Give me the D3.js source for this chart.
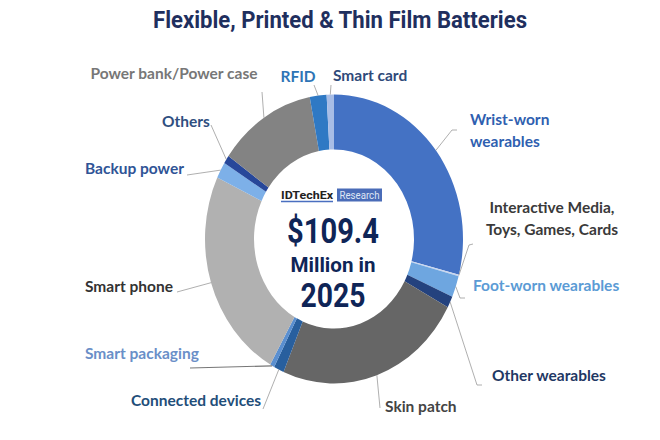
<!DOCTYPE html>
<html><head><meta charset="utf-8">
<script src="https://cdn.jsdelivr.net/npm/d3@7"></script>
<style>body{margin:0;background:#fff}svg{display:block}</style>
</head><body>
<svg id="c" width="660" height="440"></svg>
<script>
// Segments, clockwise from 12 o'clock (US$ million, 2025)
const categories = ["Wrist-worn wearables","Interactive Media, Toys, Games, Cards","Foot-worn wearables","Other wearables","Skin patch","Connected devices","Smart packaging","Smart phone","Backup power","Others","Power bank/Power case","RFID","Smart card"];
const values = [31.7, 0.2, 2.6, 1.4, 25.8, 1.4, 0.6, 26.0, 2.0, 1.0, 13.4, 2.3, 1.0];
const sliceColors = ["#4472c4","#c9d6ee","#6ea6e0","#24427e","#666666","#285f9e","#5a8fd0","#b1b1b1","#7db0e8","#27479a","#838383","#2f79c4","#a8bde6"];
const labelLines = [["Wrist-worn","wearables"],["Interactive Media,","Toys, Games, Cards"],["Foot-worn wearables"],["Other wearables"],["Skin patch"],["Connected devices"],["Smart packaging"],["Smart phone"],["Backup power"],["Others"],["Power bank/Power case"],["RFID"],["Smart card"]];
const labelColors = ["#2f5fb0","#3a3a3a","#5b9bd5","#1f3864","#444444","#1f4e79","#6a8fc8","#333333","#2f5496","#2f4f80","#777777","#2e75b6","#2f4a7a"];
const title = "Flexible, Printed & Thin Film Batteries";
const centerLines = ["$109.4","Million in","2025"];

const svg = d3.select("#c");
const cx = 334, cy = 239, rOuter = 129, rInner = 80, sy = 1.12;

svg.append("text").attr("x",340).attr("y",28).attr("text-anchor","middle")
  .attr("font-family","Roboto").attr("font-weight",700).attr("font-size",24)
  .attr("fill","#1f2f5e").attr("textLength",374).attr("lengthAdjust","spacingAndGlyphs").text(title);

const pie = d3.pie().sort(null).value(d=>d);
const arcs = pie(values);
const arc = d3.arc().innerRadius(rInner).outerRadius(rOuter);
const g = svg.append("g").attr("transform",`translate(${cx},${cy}) scale(1,${sy})`);
g.selectAll("path").data(arcs).join("path").attr("d",arc).attr("fill",(d,i)=>sliceColors[i]);

// label anchors (x of text, y of first baseline, anchor) and leader polylines ending on the arc
const labelPos = [
  {x:470,y:125,a:"start",lead:[[457,130],[452,130]]},
  {x:552,y:213,a:"middle",lead:[[473,244],[469,245]]},
  {x:473,y:291,a:"start",lead:[[465,298],[460,298]]},
  {x:492,y:381,a:"start",lead:[[482,385],[477,385]]},
  {x:385,y:412,a:"start",lead:[[380,408]]},
  {x:131,y:406,a:"start",lead:[[263,409]]},
  {x:85,y:359,a:"start",lead:[[190,368]]},
  {x:85,y:292,a:"start",lead:[[177,292]]},
  {x:85,y:174,a:"start",lead:[[187,175]]},
  {x:162,y:127,a:"start",lead:[[211,125]]},
  {x:174,y:79,a:"middle",lead:[[262,92]]},
  {x:298,y:82,a:"middle",lead:[[314,85]]},
  {x:333,y:81,a:"start",lead:[[331,85]]}
];
const edgePoint = (d,i)=>{
  const ang = (d.startAngle+d.endAngle)/2;
  return [cx + rOuter*Math.sin(ang), cy - rOuter*Math.cos(ang)*sy];
};
const line = d3.line();
svg.append("g").selectAll("path").data(arcs).join("path")
  .attr("d",(d,i)=>line(labelPos[i].lead.concat([edgePoint(d,i)])))
  .attr("fill","none").attr("stroke",(d,i)=> i===6? "#777":"#9a9a9a").attr("stroke-width",(d,i)=>i===6?1.2:0.8);

const lg = svg.append("g").attr("font-family","Lato").attr("font-weight",700).attr("font-size",15.5);
labelLines.forEach((ls,i)=>{
  const t = lg.append("text").attr("x",labelPos[i].x).attr("y",labelPos[i].y)
    .attr("text-anchor",labelPos[i].a).attr("fill",labelColors[i]);
  ls.forEach((s,k)=>t.append("tspan").attr("x",labelPos[i].x).attr("dy",k?22:0).text(s));
});

// center
const cg = svg.append("g").attr("font-family","Roboto").attr("font-weight",700).attr("fill","#0f2557").attr("text-anchor","middle");
cg.append("text").attr("x",333).attr("y",243).attr("font-size",35).attr("textLength",92).attr("lengthAdjust","spacingAndGlyphs").text(centerLines[0]);
cg.append("text").attr("x",333).attr("y",272).attr("font-size",21).attr("textLength",85).attr("lengthAdjust","spacingAndGlyphs").text(centerLines[1]);
cg.append("text").attr("x",333).attr("y",307).attr("font-size",34).attr("textLength",65).attr("lengthAdjust","spacingAndGlyphs").text(centerLines[2]);
// logo
svg.append("text").attr("x",281).attr("y",199).attr("font-family","Roboto").attr("font-weight",700).attr("font-size",11)
  .attr("fill","#222").attr("textLength",52).attr("lengthAdjust","spacingAndGlyphs").text("IDTechEx");
svg.append("line").attr("x1",281).attr("x2",333).attr("y1",201.5).attr("y2",201.5).attr("stroke","#4a6fc0").attr("stroke-width",1.5);
svg.append("rect").attr("x",337).attr("y",188.5).attr("width",45).attr("height",13).attr("fill","#4a6cb8");
svg.append("text").attr("x",359.5).attr("y",199).attr("text-anchor","middle").attr("font-family","Roboto").attr("font-size",10)
  .attr("fill","#dfe6f5").attr("textLength",40).attr("lengthAdjust","spacingAndGlyphs").text("Research");
</script></body></html>
